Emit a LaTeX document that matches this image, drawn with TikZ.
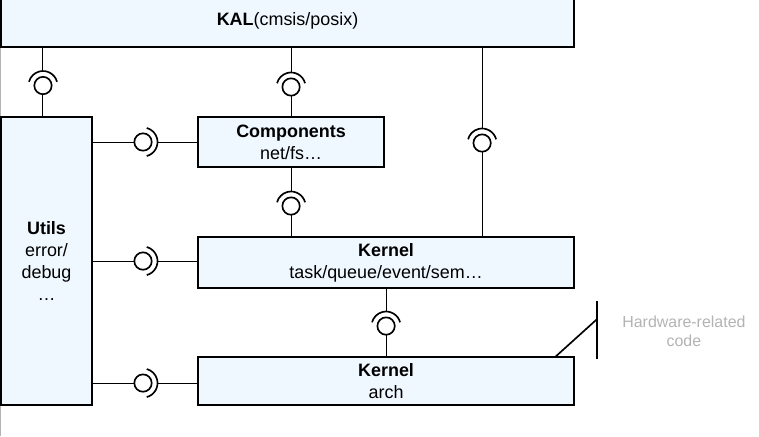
\documentclass[tikz,border=0pt]{standalone}
\usepackage{fontspec}
\setmainfont{Liberation Sans}
\usetikzlibrary{positioning, calc}
\definecolor{boxblue}{HTML}{F0F8FF}
\definecolor{hwgray}{HTML}{B3B3B3}

\begin{document}
\begin{tikzpicture}[
    block/.style={rectangle, draw, line width=1.5pt, fill=boxblue, outer sep=0pt, inner sep=0pt, align=center, font=\fontsize{13.5}{16.5}\selectfont},
    ball/.style={circle, draw, line width=1.25pt, minimum size=0.46cm, inner sep=0pt, outer sep=0pt},
    socket/.style={line width=1.25pt},
    link/.style={line width=0.75pt},
    hwline/.style={line width=1.25pt}
]
\useasboundingbox (0,0) rectangle (20.08,-11.536);
\draw[hwgray, line width=0.75pt] (0,0) -- (0,-11.536);

% Blocks
\node[block, minimum width=15.16cm, minimum height=1.376cm, anchor=north west] (kal) at (0.0265,0.132) {\textbf{KAL}(cmsis/posix)};
\node[block, minimum width=2.408cm, minimum height=7.62cm, below=1.852cm of kal.south west, anchor=north west] (utils) {\textbf{Utils}\\error/\\debug\\…};
\node[block, minimum width=4.921cm, minimum height=1.323cm, right=2.805cm of utils.north east, anchor=north west] (components) {\textbf{Components}\\net/fs…};
\node[block, minimum width=9.949cm, minimum height=1.349cm, below=1.852cm of components.south west, anchor=north west] (kernel) {\textbf{Kernel}\\task/queue/event/sem…};
\node[block, minimum width=9.949cm, minimum height=1.27cm, below=1.826cm of kernel.south west, anchor=north west] (arch) {\textbf{Kernel}\\arch};

% Interfaces
\node[ball] (b1) at ([shift={(1.111,-1.019)}]kal.south west) {};
\node[ball] (b2) at ([yshift=0.794cm]components.north) {};
\node[ball] (b3) at ([shift={(-2.434,2.487)}]kernel.north east) {};
\node[ball] (b4) at ([yshift=-1.032cm]components.south) {};
\node[ball] (b5) at ([shift={(1.349,-0.661)}]utils.north east) {};
\node[ball] (b6) at ([xshift=1.349cm]utils.east) {};
\node[ball] (b7) at ([shift={(1.349,0.582)}]utils.south east) {};
\node[ball] (b8) at ([yshift=0.82cm]arch.north) {};

\foreach \b/\a in {b1/90, b2/90, b3/90, b4/90, b8/90, b5/0, b6/0, b7/0} {
    \draw[socket] (\b.center) ++(\a-75:0.384) arc[start angle=\a-75, delta angle=150, radius=0.384];
    \path (\b.center) ++(\a:0.384) coordinate (\b s);
}

% Connectors
\draw[link] (kal.south -| b1) -- (b1s);
\draw[link] (b1) -- (utils.north -| b1);
\draw[link] (kal.south -| b2) -- (b2s);
\draw[link] (b2) -- (components.north);
\draw[link] (kal.south -| b3) -- (b3s);
\draw[link] (b3) -- (kernel.north -| b3);
\draw[link] (components.south) -- (b4s);
\draw[link] (b4) -- (kernel.north -| b4);
\draw[link] (utils.east |- b5) -- (b5);
\draw[link] (b5s) -- (components.west |- b5);
\draw[link] (utils.east |- b6) -- (b6);
\draw[link] (b6s) -- (kernel.west |- b6);
\draw[link] (utils.east |- b7) -- (b7);
\draw[link] (b7s) -- (arch.west |- b7);
\draw[link] (kernel.south) -- (b8s);
\draw[link] (b8) -- (arch.north);

% Hardware note
\coordinate (hwfoot) at ([xshift=-0.503cm]arch.north east);
\coordinate (hwtop) at ([shift={(0.609,1.482)}]arch.north east);
\coordinate (hwbottom) at ([shift={(0.609,-0.053)}]arch.north east);
\coordinate (hwjoin) at ([shift={(0.609,1.005)}]arch.north east);
\draw[hwline] (hwtop) -- (hwbottom);
\draw[hwline] (hwfoot) -- (hwjoin);
\node[right=0.66cm of hwjoin, yshift=-0.325cm, align=center, inner sep=0pt, text=hwgray, font=\fontsize{12}{14.25}\selectfont] (hwnote) {Hardware-related\\code};

\end{tikzpicture}
\end{document}
